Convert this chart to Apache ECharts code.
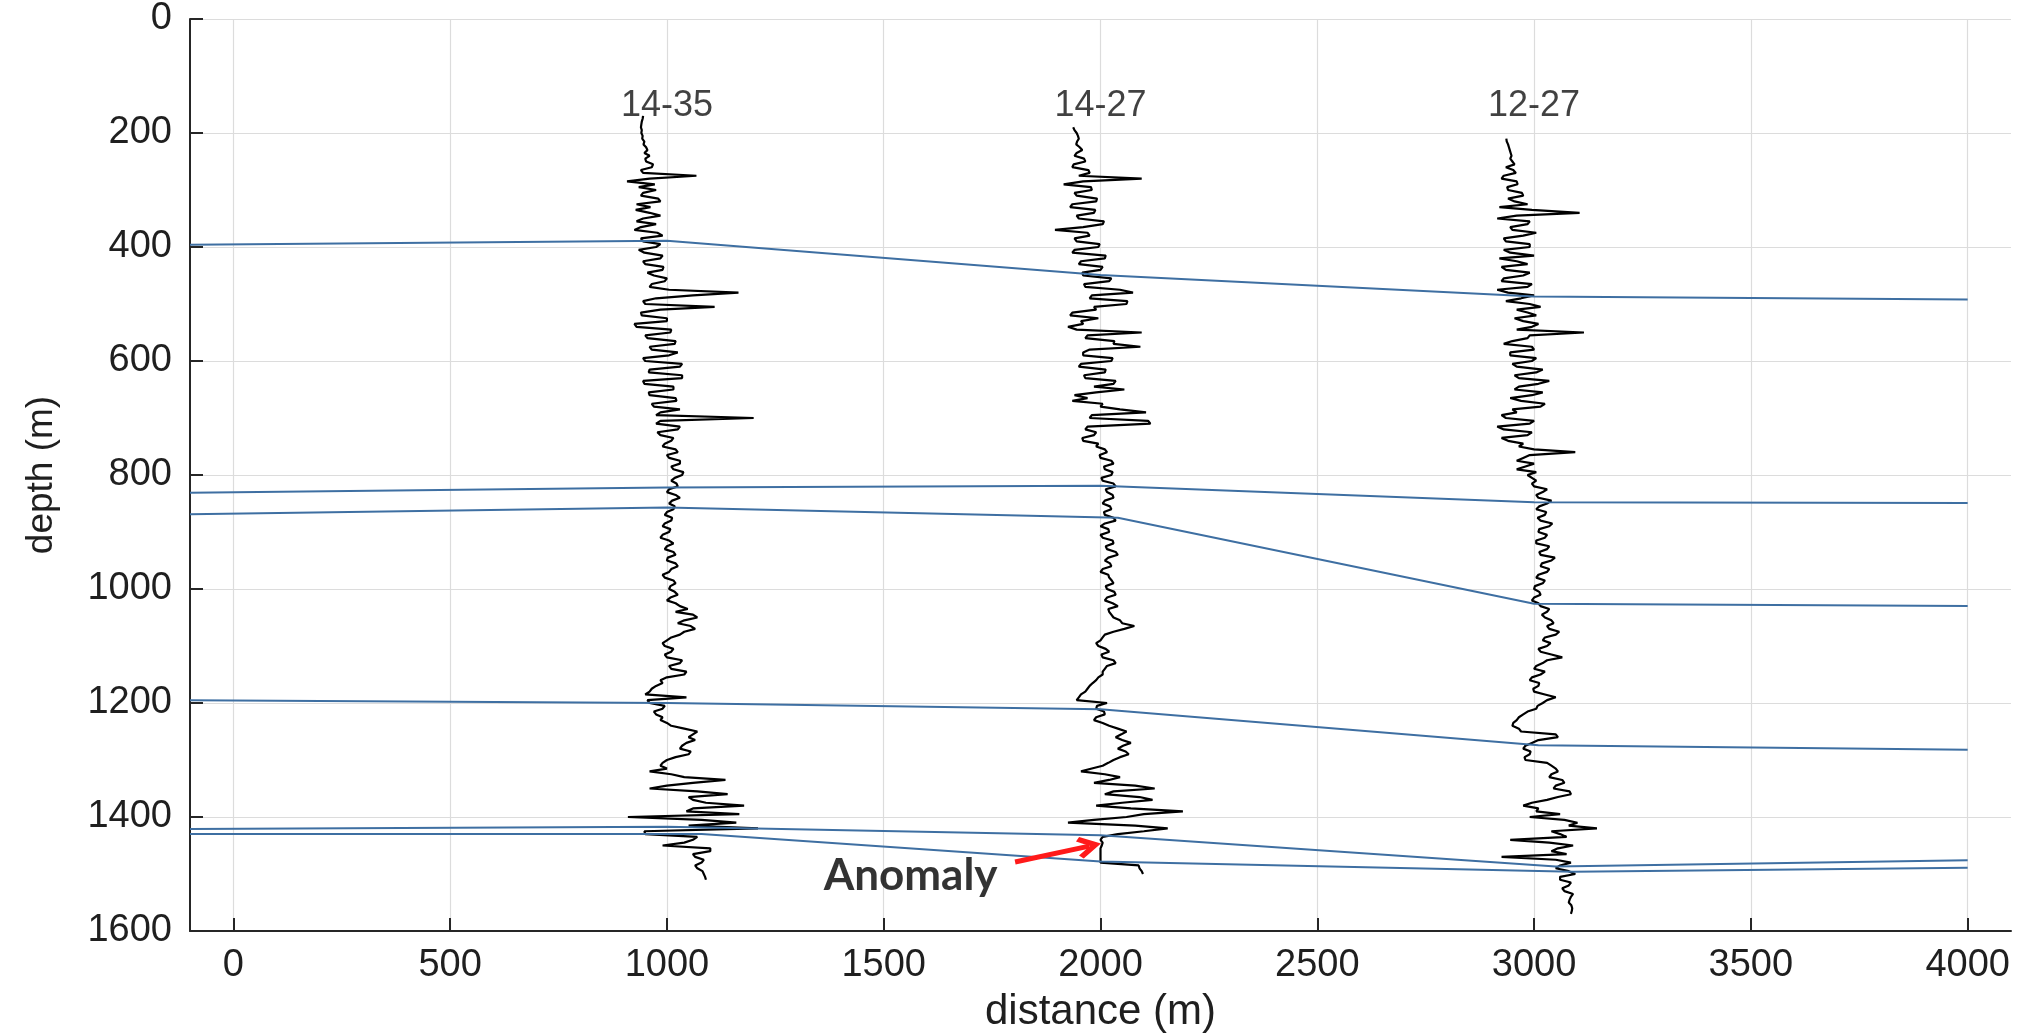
<!DOCTYPE html>
<html>
<head>
<meta charset="utf-8">
<script src="https://cdn.jsdelivr.net/npm/echarts@6/dist/echarts.min.js"></script>
<style>
html,body{margin:0;padding:0;background:#ffffff;}
#chart{width:2031px;height:1034px;}
</style>
</head>
<body>
<div id="chart"></div>
<script>
// ---------------- DATA ----------------
const xTickValues = [0, 500, 1000, 1500, 2000, 2500, 3000, 3500, 4000];

const wellNames = ['14-35', '14-27', '12-27'];
const wellX = [1000, 2000, 3000];
const wellLabelDepth = 152;

// log traces: plotted position (m along section), sampled every 5 m of depth
const logStep = 5;
const logTop1435 = 170;
const log1435 = [
  945, 944, 942, 941, 940, 942, 941, 944, 943, 948,
  946, 952, 955, 948, 960, 950, 952, 968, 965, 940,
  945, 1068, 960, 908, 972, 935, 975, 945, 940, 980,
  985, 930, 962, 928, 960, 985, 945, 930, 975, 940,
  925, 978, 990, 940, 945, 985, 975, 935, 948, 990,
  985, 945, 950, 992, 990, 955, 970, 1000, 995, 965,
  960, 1005, 1165, 1060, 975, 945, 950, 1110, 985, 940,
  942, 1000, 1000, 925, 930, 1010, 1008, 950, 955, 1020,
  1018, 960, 965, 1025, 1005, 945, 950, 1035, 1030, 960,
  958, 1035, 1035, 945, 948, 1015, 1015, 958, 960, 1020,
  1022, 965, 970, 1030, 985, 975, 1200, 985, 975, 1030,
  1025, 978, 985, 1015, 1010, 995, 990, 1020, 1025, 1000,
  1005, 1030, 1030, 1010, 1015, 1038, 1035, 1018, 1010, 1022,
  1025, 1005, 1000, 1020, 1030, 1012, 1005, 1018, 1015, 1000,
  995, 1012, 1010, 995, 990, 1008, 1005, 990, 985, 1005,
  1015, 1000, 995, 1015, 1020, 1002, 1000, 1020, 1025, 1010,
  1005, 990, 995, 1015, 1020, 1008, 1005, 1018, 1025, 1008,
  1000, 1020, 1030, 1048, 1020, 1060, 1070, 1040, 1025, 1055,
  1065, 1040, 1030, 1010, 1000, 990, 995, 1015, 1010, 995,
  1000, 1035, 1030, 1005, 1010, 1045, 1040, 1000, 985, 990,
  975, 965, 960, 950, 1045, 955, 960, 995, 990, 970,
  975, 990, 985, 1000, 1010, 1040, 1070, 1060, 1050, 1065,
  1045, 1035, 1030, 1055, 1050, 1020, 1000, 990, 985, 1000,
  960, 1010, 1040, 1135, 1060, 1000, 960, 1070, 1140, 1050,
  1060, 1090, 1178, 1060, 1045, 1167, 910, 1080, 1160, 1050,
  1210, 948, 950, 1070, 1060, 1040, 990, 1100, 1100, 1060,
  1065, 1085, 1080, 1065, 1070, 1082, 1085, 1088, 1090
];

const logTop1427 = 190;
const log1427 = [
  1937, 1940, 1945, 1948, 1950, 1946, 1944, 1952, 1958, 1945,
  1940, 1962, 1965, 1938, 1935, 1972, 1975, 1950, 2095, 1960,
  1915, 1978, 1980, 1940, 1945, 1992, 1990, 1935, 1930, 1988,
  1985, 1945, 1950, 2008, 2005, 1960, 1895, 1970, 1975, 1940,
  1945, 1998, 1995, 1940, 1935, 2012, 2010, 1955, 1950, 2005,
  2000, 1958, 1960, 2025, 2020, 1962, 1965, 2045, 2075, 1980,
  1975, 2062, 2060, 1985, 1990, 1935, 1930, 1995, 1955, 1960,
  1925, 1945, 2095, 1970, 1965, 2032, 2030, 2092, 1975, 1960,
  1960, 2028, 2025, 1955, 1950, 2012, 2010, 1962, 1965, 2035,
  2030, 1985, 2055, 1990, 1940, 1970, 1935, 2005, 2000, 2045,
  2105, 1980, 1975, 2110, 2115, 1970, 1965, 1990, 1985, 1958,
  1960, 1995, 1990, 2010, 2015, 1998, 2000, 2025, 2030, 2008,
  2010, 2028, 2025, 2002, 2005, 2030, 2035, 2012, 2015, 2028,
  2030, 2010, 2005, 2022, 2025, 2008, 2010, 2030, 2035, 2010,
  2000, 2018, 2020, 2000, 2005, 2028, 2030, 2012, 2015, 2035,
  2040, 2018, 2010, 2022, 2025, 2005, 2000, 2018, 2020, 2026,
  2030, 2012, 2015, 2032, 2035, 2015, 2010, 2028, 2040, 2018,
  2020, 2025, 2030, 2045, 2050, 2078, 2055, 2030, 2010, 2005,
  2000, 1990, 1995, 2012, 2020, 2002, 2005, 2030, 2035, 2015,
  2010, 2005, 2005, 1995, 1990, 1982, 1975, 1970, 1965, 1955,
  1950, 1945, 2015, 1992, 1990, 2008, 2010, 1990, 1985, 2005,
  2020, 2040, 2060, 2048, 2035, 2050, 2070, 2052, 2040, 2058,
  2065, 2045, 2030, 2018, 2005, 1980, 1955, 2010, 2045, 2020,
  1985, 2080, 2125, 2030, 2010, 2090, 2120, 2050, 1990, 2070,
  2190, 2100, 2060, 1985, 1925, 2080, 2155, 2100, 2040, 2005,
  2000, 2005, 2003, 2000, 2000, 2000, 2000, 2000, 2000, 2088,
  2090, 2095, 2098
];

const logTop1227 = 210;
const log1227 = [
  2936, 2937, 2940, 2942, 2944, 2946, 2948, 2945, 2950, 2955,
  2935, 2952, 2958, 2930, 2925, 2960, 2962, 2938, 2940, 2972,
  2975, 2940, 2955, 2985, 2920, 2995, 3105, 2960, 2915, 2990,
  2985, 2945, 2950, 3005, 2975, 2930, 2935, 2990, 2990, 2930,
  2945, 3000, 2920, 2960, 2985, 2925, 2935, 2990, 2975, 2930,
  2925, 2995, 2985, 2915, 2940, 3000, 2970, 2935, 2990, 3015,
  2960, 2985, 3005, 2955, 2975, 3010, 2995, 2960, 3115, 2990,
  2985, 2950, 2930, 2995, 3000, 2945, 2945, 3005, 2995, 2950,
  2960, 3020, 3005, 2955, 2965, 3035, 3010, 2965, 2955, 3020,
  2995, 2945, 2970, 3025, 3015, 2950, 2960, 2925, 2935, 3000,
  2990, 2915, 2930, 2995, 2985, 2925, 2940, 2975, 2965, 3000,
  3095, 2990, 2975, 2960, 3000, 2980, 2960, 3005, 2985, 2995,
  3005, 2995, 3000, 3030, 3020, 3005, 3010, 3040, 3030, 3012,
  3005, 3028, 3025, 3008, 3015, 3042, 3035, 3012, 3010, 3030,
  3025, 3005, 3005, 3035, 3030, 3012, 3015, 3048, 3040, 3018,
  3015, 3035, 3030, 3010, 3005, 3025, 3020, 3002, 3000, 3012,
  3015, 3000, 2995, 3010, 3015, 3035, 3030, 3018, 3025, 3040,
  3045, 3030, 3035, 3058, 3050, 3025, 3020, 3038, 3030, 3010,
  3015, 3040, 3065, 3030, 3020, 3005, 3000, 3025, 3015, 2995,
  2990, 3012, 3010, 2998, 3000, 3025, 3050, 3030, 3020, 3008,
  3005, 2985, 2975, 2965, 2960, 2952, 2950, 2965, 2970, 3050,
  3055, 3010, 2995, 2980, 2975, 2992, 2990, 2978, 2980, 3030,
  3040, 3050, 3055, 3040, 3035, 3065, 3070, 3050, 3045, 3082,
  3085, 3055, 3030, 2995, 2975, 3010, 3005, 3060, 2990, 3070,
  3100, 3080, 3145, 3040, 3060, 3075, 2945, 3035, 3090, 3055,
  3040, 3075, 2925, 3050, 3085, 3060, 3050, 3080, 3095, 3060,
  3060, 3085, 3080, 3065, 3070, 3090, 3085, 3082, 3080, 3086,
  3088, 3087, 3085
];

// correlated horizons: [distance, depth]
const horizon1 = [[-100, 396], [1000, 389], [2000, 449], [3000, 487], [4000, 492]];
const horizon2 = [[-100, 831], [1000, 822], [2000, 819], [3000, 848], [4000, 849]];
const horizon3 = [[-100, 869], [1000, 857], [2040, 875], [3000, 1026], [4000, 1030]];
const horizon4 = [[-100, 1195], [1000, 1200], [2000, 1211], [3010, 1274], [4000, 1282]];
const horizon5 = [[-100, 1421], [1000, 1417], [2000, 1432], [3050, 1487], [4000, 1476]];
const horizon6 = [[-100, 1430], [1080, 1430], [2000, 1478], [3090, 1496], [4000, 1489]];

const anomalyText = 'Anomaly';
const anomalyTextAt = [1562, 1504];
const anomalyArrowFrom = [1803, 1479];
const anomalyArrowTo = [1974, 1451];

// ---------------- CHART ----------------
const FONT = "'Liberation Sans', Arial, Helvetica, sans-serif";
const TXT = '#1f1f1f';

function logSeries(values, top) {
  return values.map((v, i) => [v, top + i * logStep]);
}

const logs = [
  logSeries(log1435, logTop1435),
  logSeries(log1427, logTop1427),
  logSeries(log1227, logTop1227)
];
const horizons = [horizon1, horizon2, horizon3, horizon4, horizon5, horizon6];

const series = [];
logs.forEach((d, i) => {
  series.push({
    type: 'line', name: 'log ' + wellNames[i], data: d,
    showSymbol: false, symbol: 'none', silent: true,
    lineStyle: { color: '#000000', width: 2.2 },
    z: 2
  });
});
horizons.forEach((d, i) => {
  series.push({
    type: 'line', name: 'horizon ' + (i + 1), data: d,
    showSymbol: false, symbol: 'none', silent: true,
    lineStyle: { color: '#3e6fa2', width: 2 },
    z: 3
  });
});
series.push({
  type: 'scatter', name: 'wells',
  data: wellX.map((x, i) => ({ value: [x, wellLabelDepth], name: wellNames[i] })),
  symbolSize: 0, silent: true,
  label: {
    show: true, position: 'inside', formatter: p => p.name,
    fontFamily: FONT, fontSize: 36, color: '#111111'
  },
  z: 4
});
series.push({
  type: 'scatter', name: 'anomaly',
  data: [{ value: anomalyTextAt, name: anomalyText }],
  symbolSize: 0, silent: true,
  label: {
    show: true, position: 'inside', formatter: p => p.name,
    fontFamily: "Lato, 'Open Sans', sans-serif", fontWeight: 'bold',
    fontSize: 44, color: '#000000'
  },
  markLine: {
    silent: true,
    symbol: ['none', 'path://M10,0 L20,15 L16.5,18 L10,8.5 L3.5,18 L0,15 Z'],
    symbolSize: [22, 24],
    label: { show: false },
    lineStyle: { color: '#ff1a1a', width: 5, type: 'solid' },
    data: [[{ coord: anomalyArrowFrom }, { coord: anomalyArrowTo }]]
  },
  z: 5
});

const option = {
  animation: false,
  backgroundColor: '#ffffff',
  grid: { left: 190, right: 20, top: 19, bottom: 103, containLabel: false, outerBoundsMode: 'none' },
  xAxis: {
    type: 'value', min: -100, max: 4100, position: 'bottom',
    name: 'distance (m)', nameLocation: 'middle', nameGap: 60,
    nameTextStyle: { fontFamily: FONT, fontSize: 42, color: TXT },
    axisLine: { show: true, onZero: false, lineStyle: { color: '#262626', width: 2 } },
    axisTick: { show: true, inside: true, length: 13, customValues: xTickValues,
      lineStyle: { color: '#262626', width: 2 } },
    axisLabel: { customValues: xTickValues, formatter: v => String(v),
      fontFamily: FONT, fontSize: 38, color: TXT, margin: 16 },
    splitLine: { show: true, lineStyle: { color: '#dcdcdc', width: 1.2 } }
  },
  yAxis: {
    type: 'value', min: 0, max: 1600, interval: 200, inverse: true, position: 'left',
    name: 'depth (m)', nameLocation: 'middle', nameGap: 130, nameRotate: 90,
    nameTextStyle: { fontFamily: FONT, fontSize: 37, color: TXT },
    axisLine: { show: true, onZero: false, lineStyle: { color: '#262626', width: 2 } },
    axisTick: { show: true, inside: true, length: 13, lineStyle: { color: '#262626', width: 2 } },
    axisLabel: { formatter: v => String(v), fontFamily: FONT, fontSize: 38, color: TXT, margin: 18 },
    splitLine: { show: true, lineStyle: { color: '#dcdcdc', width: 1.2 } }
  },
  series: series
};

const chart = echarts.init(document.getElementById('chart'), null, { renderer: 'canvas' });
chart.setOption(option);
</script>
</body>
</html>
